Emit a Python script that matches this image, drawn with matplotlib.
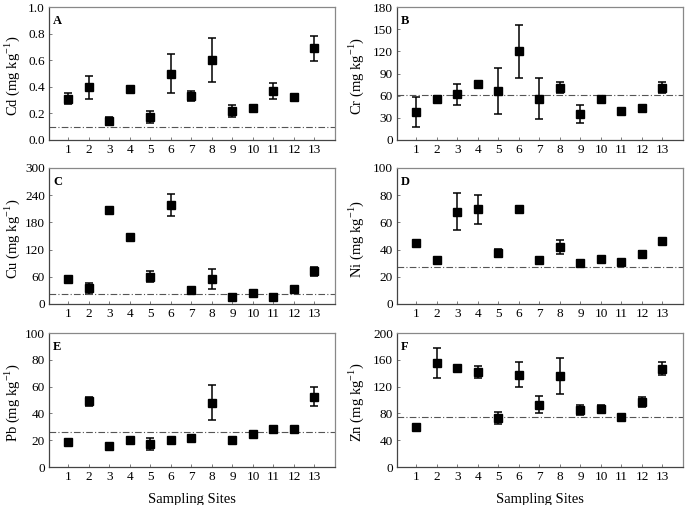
import matplotlib
matplotlib.use("Agg")
import matplotlib.pyplot as plt
import numpy as np

plt.rcParams['font.family'] = ['Liberation Serif', 'DejaVu Serif']
plt.rcParams['mathtext.fontset'] = 'custom'
plt.rcParams['mathtext.rm'] = 'Liberation Serif'

sites = list(range(1, 14))
site_labels = [str(s) for s in sites]

cd_mean = [0.31, 0.395, 0.14, 0.38, 0.175, 0.50, 0.33, 0.60, 0.22, 0.24, 0.365, 0.325, 0.69]
cd_err = [0.04, 0.085, 0.03, 0.01, 0.045, 0.145, 0.04, 0.165, 0.045, 0.01, 0.06, 0.01, 0.095]
cr_mean = [38, 55, 62, 76, 66, 120, 56, 71, 35, 55, 39, 43, 71]
cr_err = [20, 4, 14, 2, 31, 36, 28, 7, 12, 4, 2, 2, 8]
cu_mean = [55, 35, 207, 148, 60, 218, 30, 55, 15, 24, 15, 32, 72]
cu_err = [3, 12, 2, 3, 12, 24, 8, 23, 2, 3, 2, 3, 10]
ni_mean = [44.5, 32.5, 68, 69.5, 37.5, 69.5, 32.5, 42, 30.5, 33, 31, 37, 46.5]
ni_err = [1.5, 1, 13.5, 11, 3, 1, 1, 5, 2, 1.5, 1, 2, 1]
pb_mean = [19, 49, 15.5, 20, 17, 20, 21.5, 48, 20.5, 24.5, 28.5, 28, 52.5]
pb_err = [1, 3.5, 1, 1, 4.5, 1, 1, 13, 1, 1, 1, 1, 7]
zn_mean = [60, 155, 148, 142, 73, 138, 93, 136, 85, 87, 75, 97, 147]
zn_err = [2, 22, 3, 9, 9, 18, 13, 27, 8, 5, 3, 7, 10]

background = {'Cd': 0.1, 'Cr': 61, 'Cu': 22.6, 'Ni': 26.9, 'Pb': 26, 'Zn': 74.2}

panels = [
    ('A', 'Cd', cd_mean, cd_err, (0, 1.0), np.arange(0, 1.01, 0.2), '{:.1f}'),
    ('B', 'Cr', cr_mean, cr_err, (0, 180), np.arange(0, 181, 30), '{:.0f}'),
    ('C', 'Cu', cu_mean, cu_err, (0, 300), np.arange(0, 301, 60), '{:.0f}'),
    ('D', 'Ni', ni_mean, ni_err, (0, 100), np.arange(0, 101, 20), '{:.0f}'),
    ('E', 'Pb', pb_mean, pb_err, (0, 100), np.arange(0, 101, 20), '{:.0f}'),
    ('F', 'Zn', zn_mean, zn_err, (0, 200), np.arange(0, 201, 40), '{:.0f}'),
]

W, H = 685, 505
fig = plt.figure(figsize=(W / 100, H / 100), dpi=100)

lefts = [49, 397]
width = 286
rows = [(7, 140), (168, 304), (333, 467)]
for i, (letter, el, mean, err, ylim, yt, fmt) in enumerate(panels):
    r, c = divmod(i, 2)
    x0 = lefts[c]
    t, b = rows[r]
    ax = fig.add_axes([x0 / W, 1 - b / H, width / W, (b - t) / H])
    ax.errorbar(sites, mean, yerr=err, fmt='s', color='black', ms=6,
                ecolor='black', elinewidth=1.1, capsize=3, capthick=1.1)
    ax.axhline(background[el], color='#555555', lw=0.8, ls=(0, (6, 2, 1, 2)))
    ax.set_xlim(0.05, 14)
    ax.set_ylim(*ylim)
    ax.set_yticks(yt)
    ax.set_yticklabels([fmt.format(v) for v in yt])
    ax.set_xticks(sites)
    ax.set_xticklabels(site_labels)
    ax.tick_params(direction='in', length=2.5, width=0.6, color='#666666',
                   labelsize=9.5, pad=3)
    for sname, sp in ax.spines.items():
        sp.set_color('#888888' if sname in ('top', 'right') else '#444444')
        sp.set_linewidth(0.9)
    ax.set_ylabel(el + r' (mg kg$^{\mathregular{-1}}$)', fontsize=10.5)
    ax.yaxis.set_label_coords(-27 / width if c == 0 else -31 / width, 0.48)
    ax.text(4 / width, 1 - 8 / (b - t), letter, transform=ax.transAxes,
            fontsize=9, fontweight='bold', va='top', ha='left')
    if r == 2:
        ax.set_xlabel('Sampling Sites', fontsize=10.5, labelpad=7)

fig.savefig('out.png', dpi=100)
